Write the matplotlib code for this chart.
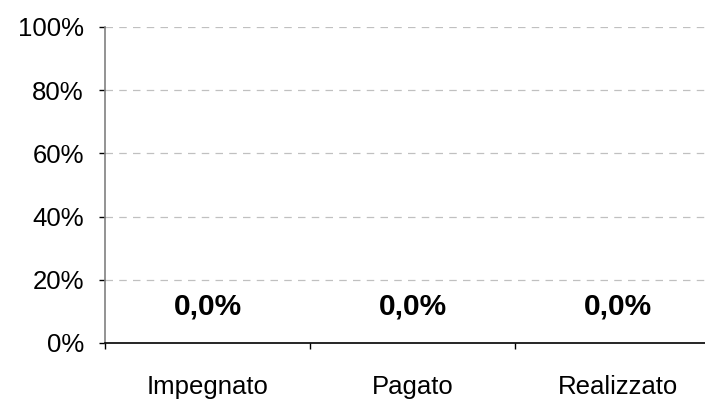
import matplotlib
matplotlib.use("Agg")
import matplotlib.pyplot as plt
from matplotlib.ticker import FixedLocator, FuncFormatter

categories = ["Impegnato", "Pagato", "Realizzato"]
values = [0.0, 0.0, 0.0]
yticks = [0, 20, 40, 60, 80, 100]

plt.rcParams['font.family'] = ['Liberation Sans', 'DejaVu Sans']

fig = plt.figure(figsize=(7.05, 4.01), dpi=100)
ax = fig.add_axes([105/705, 58/401, 615/705, 316/401])

x = list(range(len(categories)))
ax.bar(x, values, width=0.5, color="#9999ff")
ax.set_xlim(-0.5, len(categories) - 0.5)
ax.set_ylim(0, 100)

ax.set_yticks(yticks)
ax.yaxis.set_major_formatter(FuncFormatter(lambda v, p: f"{int(v)}%"))
ax.tick_params(axis='y', direction='out', length=4.3, width=1, color='black',
               labelsize=18.5, pad=11)

ax.set_xticks(x)
ax.set_xticklabels(categories)
ax.tick_params(axis='x', which='major', length=0, labelsize=18.5, pad=23)
ax.xaxis.set_minor_locator(FixedLocator([i - 0.5 for i in range(len(categories) + 1)]))
ax.tick_params(axis='x', which='minor', direction='out', length=4.5, width=1, color='black')

for s in ['top', 'right']:
    ax.spines[s].set_visible(False)
ax.spines['left'].set_color('#808080')
ax.spines['bottom'].set_color('black')
ax.spines['left'].set_linewidth(1.2)
ax.spines['bottom'].set_linewidth(1.2)

for yv in yticks[1:]:
    ax.axhline(yv, color='#c0c0c0', linewidth=0.9, linestyle=(0, (6, 5)), zorder=0)

for xi, v in zip(x, values):
    ax.annotate(f"{v:.1f}%".replace('.', ','), xy=(xi, v), xytext=(0, 20.5),
                textcoords='offset points', ha='center', va='baseline',
                fontsize=21.5, fontweight='bold')

fig.savefig("out.png", dpi=100)
